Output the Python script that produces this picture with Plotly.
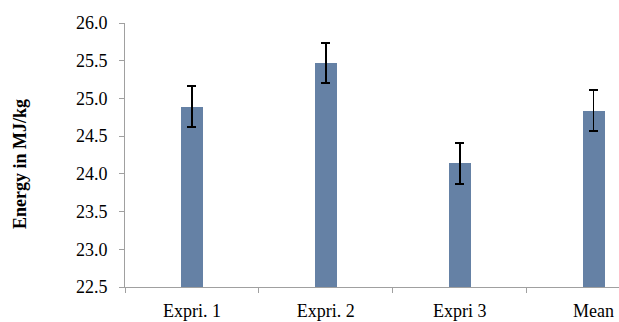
import plotly.graph_objects as go

categories = ["Expri. 1", "Expri. 2", "Expri 3", "Mean"]
energy = [24.89, 25.47, 24.14, 24.84]
errors = [0.27, 0.27, 0.27, 0.27]

W, H = 619, 322
L, R, T, B = 125, 0, 23, 35

fig = go.Figure()
fig.add_trace(go.Bar(
    x=categories, y=energy,
    width=0.165,
    marker=dict(color="#6581A5", line=dict(width=0)),
    error_y=dict(type="data", array=errors, visible=True,
                 color="black", thickness=1.8, width=4.5),
    showlegend=False,
))

font = "Liberation Serif, Times New Roman, serif"
fig.update_layout(
    width=W, height=H,
    margin=dict(l=L, r=R, t=T, b=B),
    paper_bgcolor="white", plot_bgcolor="white",
    font=dict(family=font, size=18, color="black"),
    bargap=0,
)
fig.update_xaxes(
    range=[-0.5, 3.19],
    showline=True, linecolor="#a0a0a0", linewidth=1,
    ticks="outside", tickson="boundaries", ticklen=5, tickcolor="#a0a0a0",
    showgrid=False, zeroline=False,
    tickfont=dict(family=font, size=18),
    ticklabelstandoff=7,
    automargin=False,
)
fig.update_yaxes(
    range=[22.5, 26.0], dtick=0.5, tickformat=".1f",
    showline=True, linecolor="#a0a0a0", linewidth=1,
    ticks="outside", ticklen=5, tickcolor="#a0a0a0",
    showgrid=False, zeroline=False,
    tickfont=dict(family=font, size=18),
    ticklabelstandoff=8,
    automargin=False,
)
fig.add_annotation(
    text="<b>Energy in MJ/kg</b>", textangle=-90,
    xref="paper", yref="paper",
    x=(20 - L) / (W - L - R), y=1 - (164 - T) / (H - T - B),
    xanchor="center", yanchor="middle", showarrow=False,
    font=dict(family=font, size=18, color="black"),
)
fig.write_html("out.html", config={"displayModeBar": False})

with open("out.html", encoding="utf-8") as f:
    html = f.read()
html = html.replace("<head>", "<head><style>html,body{margin:0;padding:0;overflow:hidden}</style>", 1)
with open("out.html", "w", encoding="utf-8") as f:
    f.write(html)
